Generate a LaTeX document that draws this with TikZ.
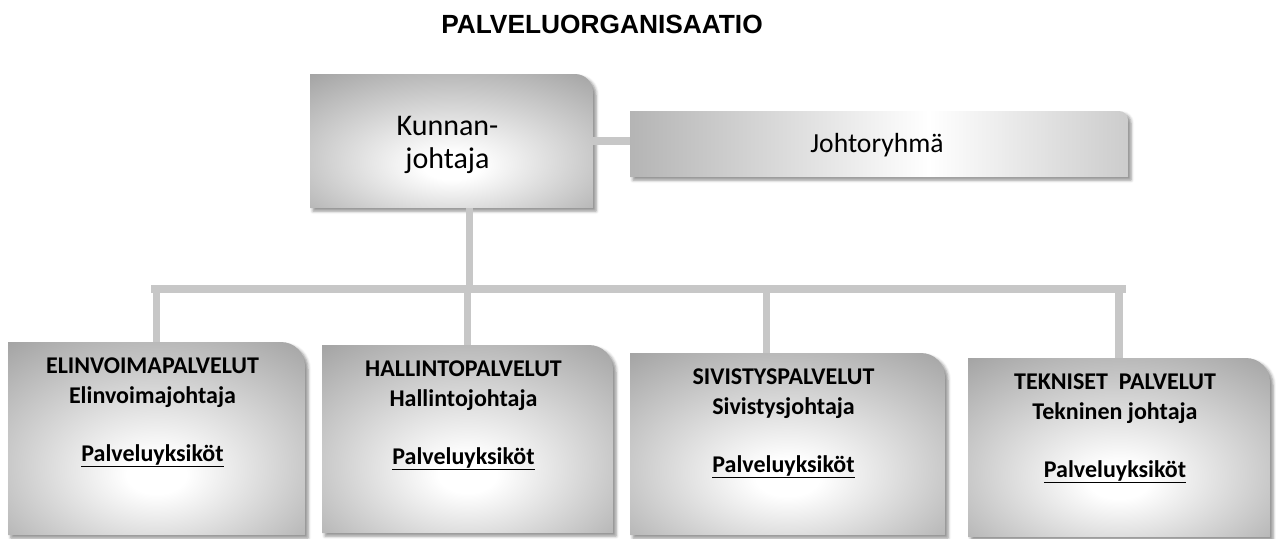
\documentclass[tikz,border=0pt]{standalone}
\usepackage{fontspec}
\setmainfont{Carlito}
\newfontfamily\titlefont{Liberation Sans}
\usetikzlibrary{calc}
\usetikzlibrary{shadows.blur}
\definecolor{boxgray}{gray}{0.63}
\definecolor{boxdark}{gray}{0.58}
\definecolor{bargray}{gray}{0.78}
\pgfdeclareradialshading{palradial}{\pgfpoint{0bp}{-10bp}}{color(0bp)=(white); color(5bp)=(white); color(40bp)=(boxgray); color(50bp)=(boxgray); color(75bp)=(boxdark)}
\pgfdeclarehorizontalshading{palhoriz}{100bp}{color(0bp)=(boxdark); color(12bp)=(boxdark); color(55bp)=(white); color(92bp)=(boxgray); color(100bp)=(boxgray)}
\tikzstyle{connector}=[draw=bargray, line width=7.5pt]
\tikzstyle{boxshadow}=[blur shadow={shadow xshift=3pt, shadow yshift=-3pt, shadow blur radius=3pt, shadow opacity=45}]
\tikzstyle{unittext}=[font=\bfseries\fontsize{24}{30}\selectfont, align=center, anchor=north, inner sep=0pt, xshift=-4pt, yshift=-15.5pt]
\newcommand{\unitbox}[7][palradial]{% Syntax: [shading] {name}{left}{top}{right}{bottom}{corner radius}, px from top left
\pgfmathsetmacro{\boxw}{#5-#3}
\pgfmathsetmacro{\boxh}{#6-#4}
\node[minimum width=\boxw pt, minimum height=\boxh pt, inner sep=0pt, outer sep=0pt] (#2) at ({(#3+#5)/2},{-(#4+#6)/2}) {};
\shade[shading=#1, boxshadow] (#2.south west) -- (#2.north west) -- ([xshift=-#7pt]#2.north east) arc[start angle=90, end angle=0, radius=#7pt] -- (#2.south east) -- cycle;
}

\begin{document}
\begin{tikzpicture}[x=1pt, y=1pt]
  \useasboundingbox (0,0) rectangle (1276,-538);
  \node[font=\titlefont\bfseries\fontsize{26.3}{30}\selectfont, anchor=base] (title) at (602,-33) {PALVELUORGANISAATIO};
  \unitbox{kj}{310}{74}{593}{208}{18}
  \unitbox[palhoriz]{jr}{630}{111}{1128}{177}{9}
  \unitbox{e1}{8}{342}{305}{535}{24}
  \unitbox{e2}{322}{345}{613}{533}{24}
  \unitbox{e3}{630}{353}{945}{535}{24}
  \unitbox{e4}{968}{358}{1270}{537}{24}
  \node[font=\fontsize{30}{33}\selectfont, align=center, anchor=north, inner sep=0pt] (kjt) at ([xshift=-4pt, yshift=-42pt]kj.north) {Kunnan-\\johtaja};
  \node[font=\fontsize{27.6}{32}\selectfont, anchor=base, inner sep=0pt] (jrt) at ([xshift=-2pt, yshift=-8pt]jr.center) {Johtoryhmä};
  \node[unittext] (e1t) at (e1.north) {ELINVOIMAPALVELUT\\Elinvoimajohtaja\\[28pt]\underline{Palveluyksiköt}};
  \node[unittext] (e2t) at (e2.north) {HALLINTOPALVELUT\\Hallintojohtaja\\[28pt]\underline{Palveluyksiköt}};
  \node[unittext] (e3t) at (e3.north) {SIVISTYSPALVELUT\\Sivistysjohtaja\\[28pt]\underline{Palveluyksiköt}};
  \node[unittext] (e4t) at (e4.north) {TEKNISET\ \ PALVELUT\\Tekninen johtaja\\[28pt]\underline{Palveluyksiköt}};
  % connectors
  \coordinate (busL) at (151,-289);
  \coordinate (busR) at (1126,-289);
  \coordinate (kjd) at ([xshift=18pt]kj.south);
  \coordinate (e3d) at ([xshift=-21pt]e3.north);
  \draw[connector] (kj.east) -- (kj.east -| jr.west);
  \draw[connector] (kjd) -- (kjd |- busL);
  \draw[connector] (busL) -- (busR);
  \foreach \u in {e1,e2,e4}
    \draw[connector] (\u.north |- busL) -- (\u.north);
  \draw[connector] (e3d |- busL) -- (e3d);
\end{tikzpicture}
\end{document}
